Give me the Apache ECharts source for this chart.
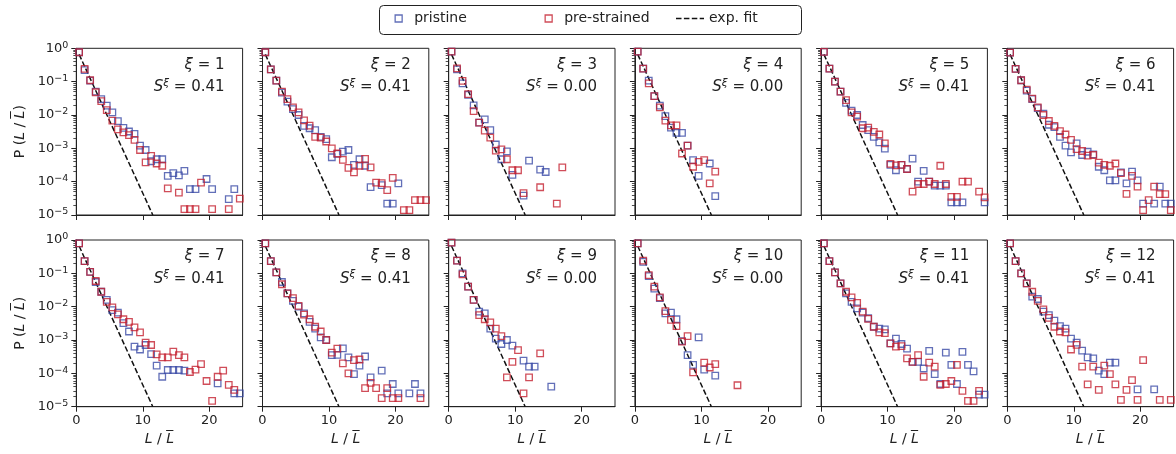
<!DOCTYPE html>
<html><head><meta charset="utf-8">
<script src="https://cdn.jsdelivr.net/npm/echarts@6/dist/echarts.min.js"></script>
<style>html,body{margin:0;padding:0;background:#fff}#c{width:1176px;height:454px}</style>
</head><body><div id="c"></div>
<script>
// bin centres of L / L-bar
const binX = [0.42, 1.25, 2.08, 2.92, 3.75, 4.58, 5.42, 6.25, 7.08, 7.92, 8.75, 9.58, 10.42, 11.25, 12.08, 12.92, 13.75, 14.58, 15.42, 16.25, 17.08, 17.92, 18.75, 19.58, 20.42, 21.25, 22.08, 22.92, 23.75, 24.58];

const xiValues = [1, 2, 3, 4, 5, 6, 7, 8, 9, 10, 11, 12];
const sValues = ['0.41', '0.41', '0.00', '0.00', '0.41', '0.41', '0.41', '0.41', '0.00', '0.00', '0.41', '0.41'];

const pristine1 = [0.76, 0.22, 0.107, 0.05, 0.03, 0.019, 0.012, 0.0065, 0.0041, 0.0032, 0.0027, 0.0012, 0.00089, 0.00041, 0.00047, 0.00047, 0.00015, 0.00018, 0.000155, 0.00021, 6e-5, 6e-5, null, 0.00012, 6e-5, null, null, 3e-5, 6e-5, null];
const strained1 = [0.76, 0.24, 0.11, 0.048, 0.026, 0.014, 0.0068, 0.0037, 0.003, 0.0025, 0.0018, 0.00089, 0.00038, 0.00059, 0.00035, 0.0003, 6.3e-5, null, 4.7e-5, 1.5e-5, 1.5e-5, 1.5e-5, 9.3e-5, null, 1.5e-5, null, null, 1.5e-5, null, 3.1e-5];
const pristine2 = [0.76, 0.234, 0.107, 0.047, 0.025, 0.015, 0.01, 0.0047, 0.004, 0.0035, 0.0022, 0.0019, 0.00054, 0.00068, 0.0008, 0.00089, 0.00032, 0.00047, 0.0003, 6.9e-5, null, 7.9e-5, 2.2e-5, 2.2e-5, 8.9e-5];
const strained2 = [0.76, 0.234, 0.107, 0.05, 0.03, 0.017, 0.012, 0.0069, 0.0048, 0.0022, 0.0021, 0.0016, 0.001, 0.0007, 0.00045, 0.00026, 0.00019, 0.0003, 0.00048, 0.00027, 9.3e-5, 9.1e-5, 5.6e-5, 0.00013, null, 1.4e-5, 1.4e-5, 2.8e-5, 2.8e-5, 2.8e-5];
const pristine3 = [0.79, 0.234, 0.089, 0.04, 0.0195, 0.0059, 0.0074, 0.0035, 0.0013, 0.00047, 0.00081, 0.00016, null, 3.8e-5, 0.00043, null, 0.00023, 0.000195];
const strained3 = [0.79, 0.25, 0.105, 0.042, 0.013, 0.0059, 0.0034, 0.0021, 0.00085, 0.00093, 0.00047, 0.00022, 0.00022, 4.5e-5, null, null, 6.8e-5, null, null, 2.2e-5, 0.00027];
const pristine4 = [0.79, 0.245, 0.107, 0.037, 0.019, 0.0093, 0.0042, 0.0029, 0.0029, 0.0012, 0.00044, 0.00015, null, 0.00035, 3.7e-5];
const strained4 = [0.79, 0.245, 0.089, 0.037, 0.017, 0.0068, 0.0049, 0.0049, 0.0007, 0.0012, 0.00028, 0.00039, 0.00044, 8.9e-5, 0.0002];
const pristine5 = [0.78, 0.245, 0.1, 0.05, 0.023, 0.0135, 0.01, 0.005, 0.0035, 0.0022, 0.0015, 0.00098, 0.00032, 0.00022, 0.00032, 0.00024, 0.00049, 0.0001, 0.00021, 0.0001, 7.6e-5, 7.6e-5, 7.6e-5, 2.4e-5, 2.4e-5, 2.4e-5, null, null, null, 2.4e-5];
const strained5 = [0.78, 0.245, 0.1, 0.05, 0.028, 0.012, 0.0089, 0.004, 0.0042, 0.0031, 0.0026, 0.0014, 0.00034, 0.00031, 0.00032, 0.00024, 5e-5, 8.5e-5, 8.5e-5, 0.0001, 8.5e-5, 0.0003, 8.5e-5, 3.5e-5, 3.5e-5, 0.0001, 0.0001, null, 5e-5, 3.4e-5];
const pristine6 = [0.74, 0.24, 0.11, 0.054, 0.03, 0.016, 0.011, 0.0051, 0.0043, 0.0022, 0.0012, 0.00076, 0.0014, 0.00063, 0.00079, 0.00066, 0.00028, 0.00022, 0.00011, 0.00011, 0.00019, 8.9e-5, 0.0002, 0.00011, 2.2e-5, null, 2.2e-5, 7.1e-5, 2.2e-5, 2.2e-5];
const strained6 = [0.74, 0.24, 0.11, 0.058, 0.031, 0.017, 0.01, 0.0066, 0.0047, 0.0033, 0.0026, 0.0018, 0.00095, 0.00083, 0.0006, 0.00063, 0.00037, 0.00032, 0.0003, 0.00035, 0.00018, 4.3e-5, 0.00015, 7.1e-5, 1.4e-5, 2.8e-5, 7.1e-5, 4.2e-5, 4.2e-5, 1.4e-5];
const pristine7 = [0.79, 0.234, 0.11, 0.055, 0.028, 0.016, 0.0079, 0.0066, 0.0032, 0.0018, 0.00063, 0.00052, 0.00071, 0.00038, 0.00017, 7.9e-5, 0.000126, 0.000126, 0.000126, 0.00012, null, null, null, null, null, 5e-5, null, null, 2.5e-5, 2.5e-5];
const strained7 = [0.79, 0.234, 0.11, 0.059, 0.028, 0.014, 0.0095, 0.0059, 0.0042, 0.0035, 0.0024, 0.0017, 0.00083, 0.00071, 0.00037, 0.0003, 0.0003, 0.00045, 0.00035, 0.0003, 0.00011, 0.00013, 0.00019, 5.9e-5, 1.5e-5, 7.9e-5, 0.00012, 4.5e-5, 3.2e-5];
const pristine8 = [0.79, 0.234, 0.107, 0.055, 0.025, 0.015, 0.01, 0.0063, 0.0035, 0.0022, 0.0012, 0.001, 0.00035, 0.00036, 0.00056, 0.0003, 9.5e-5, 0.00017, 0.00032, 7.6e-5, null, 0.00012, 2.5e-5, 4.8e-5, 2.5e-5, null, 2.5e-5, 4.8e-5, 2.5e-5];
const strained8 = [0.79, 0.234, 0.107, 0.047, 0.025, 0.018, 0.0105, 0.0058, 0.0042, 0.0025, 0.0018, 0.001, 0.00042, 0.00055, 0.0002, 0.0001, 0.00025, 0.00026, 3.6e-5, 5.2e-5, 3.6e-5, 1.8e-5, 3.6e-5, 1.8e-5, 1.8e-5, null, null, null, 1.8e-5];
const pristine9 = [0.83, 0.24, 0.1, 0.04, 0.016, 0.0071, 0.0063, 0.0022, 0.0011, 0.00076, 0.001, 0.00068, null, 0.00024, 0.00016, 0.00016, null, null, 4e-5];
const strained9 = [0.83, 0.24, 0.093, 0.04, 0.016, 0.0056, 0.0042, 0.0034, 0.0022, 0.0013, 7.6e-5, 0.00022, 0.0005, 2.5e-5, 7.6e-5, null, 0.0004];
const pristine10 = [0.79, 0.22, 0.083, 0.035, 0.018, 0.0063, 0.0066, 0.0042, 0.00093, 0.00035, 0.00018, 0.0012, 0.00013, null, 8.5e-5];
const strained10 = [0.79, 0.24, 0.089, 0.04, 0.019, 0.0074, 0.004, 0.0026, 0.00089, 0.0013, 0.000107, null, 0.00021, 0.00015, 0.00019, null, null, null, 4.4e-5];
const pristine11 = [0.79, 0.234, 0.107, 0.05, 0.025, 0.014, 0.0089, 0.0066, 0.0045, 0.0025, 0.0022, 0.0021, 0.00079, 0.0011, 0.00076, 0.00055, 0.00022, 0.00022, 0.00014, 0.00047, 9.5e-5, 4.8e-5, 0.00042, 0.00018, 4.8e-5, 0.00044, 0.00018, 0.000115, 2.3e-5, 2.3e-5];
const strained11 = [0.79, 0.234, 0.107, 0.05, 0.028, 0.019, 0.013, 0.0071, 0.0043, 0.0025, 0.0017, 0.0016, 0.00079, 0.00063, 0.00066, 0.00028, 0.00022, 0.00035, 7.9e-5, 0.00021, 0.00016, 4.5e-5, 4.8e-5, 5.9e-5, 0.00018, 3e-5, 1.5e-5, 1.5e-5, 3e-5];
const pristine12 = [0.79, 0.234, 0.1, 0.05, 0.02, 0.017, 0.0071, 0.0056, 0.0038, 0.0026, 0.0022, 0.0011, 0.00083, 0.00048, 0.0003, 0.00028, 0.00012, 9.5e-5, 0.00021, 0.00021, null, null, null, 3.3e-5, null, null, 3.3e-5];
const strained12 = [0.79, 0.234, 0.1, 0.05, 0.028, 0.015, 0.0083, 0.0046, 0.0025, 0.0018, 0.0017, 0.00052, 0.00072, 0.00016, 4.7e-5, 0.00016, 3.2e-5, 0.00017, 9.5e-5, 4.7e-5, 1.6e-5, 3.2e-5, 6.3e-5, 1.6e-5, 0.00025, null, null, 1.6e-5, null, 1.6e-5];

// exponential fit line (same in every panel): end points
const fitX = [0.42, 11.5];
const fitY = [0.66, 1.0e-5];

// axis ticks
const xTicks = [0, 10, 20];
const yMajorTicks = [1e-5, 1e-4, 1e-3, 1e-2, 1e-1, 1];
const yMinorTicks = [2e-5,3e-5,4e-5,5e-5,6e-5,7e-5,8e-5,9e-5, 2e-4,3e-4,4e-4,5e-4,6e-4,7e-4,8e-4,9e-4, 2e-3,3e-3,4e-3,5e-3,6e-3,7e-3,8e-3,9e-3, 2e-2,3e-2,4e-2,5e-2,6e-2,7e-2,8e-2,9e-2, 0.2,0.3,0.4,0.5,0.6,0.7,0.8,0.9];

const pristineAll = [pristine1, pristine2, pristine3, pristine4, pristine5, pristine6, pristine7, pristine8, pristine9, pristine10, pristine11, pristine12];
const strainedAll = [strained1, strained2, strained3, strained4, strained5, strained6, strained7, strained8, strained9, strained10, strained11, strained12];

const FONT = 'DejaVu Sans';
const TXT = '#222';
const BLUE = '#3b4ba6';
const RED = '#c4202f';
const LEFT0 = 76.3, COLSTEP = 186.2, W = 166.3, H = 166.7, TOPS = [48.3, 240];

function pairs(arr) {
  const out = [];
  arr.forEach((v, i) => { if (v !== null && v !== undefined) out.push([binX[i], v]); });
  return out;
}

const grids = [], xAxes = [], yAxes = [], series = [], graphics = [];
const axisNameRich = {
  n: { fontFamily: FONT, fontSize: 14, color: TXT },
  i: { fontFamily: FONT, fontSize: 14, color: TXT, fontStyle: 'italic' }
};

for (let k = 0; k < 12; k++) {
  const row = Math.floor(k / 6), col = k % 6;
  const left = LEFT0 + col * COLSTEP, top = TOPS[row];
  grids.push({ left, top, width: W, height: H, show: true, borderColor: TXT, borderWidth: 1,
    backgroundColor: 'transparent', containLabel: false, outerBoundsMode: 'none' });
  xAxes.push({
    gridIndex: k, type: 'value', min: 0, max: 25,
    axisLine: { show: true, onZero: false, lineStyle: { color: TXT, width: 1 } },
    axisTick: { show: true, length: 5, customValues: xTicks, lineStyle: { color: TXT, width: 1 } },
    axisLabel: { show: row === 1, customValues: xTicks, color: TXT, fontSize: 13, fontFamily: FONT, margin: 7 },
    splitLine: { show: false },
    name: row === 1 ? '{i|L}{n| / }{i|L\u0305}' : '',
    nameLocation: 'middle', nameGap: 26,
    nameTextStyle: { rich: axisNameRich }
  });
  yAxes.push({
    gridIndex: k, type: 'log', logBase: 10, min: 1e-5, max: 1, position: 'left',
    axisLine: { show: true, onZero: false, lineStyle: { color: TXT, width: 1 } },
    axisTick: { show: true, length: 5, customValues: yMajorTicks, lineStyle: { color: TXT, width: 1 } },
    axisLabel: {
      show: col === 0, customValues: yMajorTicks, margin: 8,
      formatter: function (v) {
        const e = Math.round(Math.log10(v));
        return '{b|10}{s|' + (e < 0 ? '\u2212' + (-e) : e) + '}';
      },
      rich: {
        b: { fontFamily: FONT, fontSize: 13, lineHeight: 16, color: TXT },
        s: { fontFamily: FONT, fontSize: 9.5, lineHeight: 9, color: TXT, verticalAlign: 'top' }
      }
    },
    splitLine: { show: false },
    name: col === 0 ? '{n|P (}{i|L}{n| / }{i|L\u0305}{n|)}' : '',
    nameLocation: 'middle', nameGap: 49, nameRotate: 90,
    nameTextStyle: { rich: axisNameRich }
  });
  yAxes.push({
    gridIndex: k, type: 'log', logBase: 10, min: 1e-5, max: 1, position: 'left', offset: 0,
    axisLine: { show: false },
    axisTick: { show: true, length: 3, customValues: yMinorTicks, lineStyle: { color: TXT, width: 0.8 } },
    axisLabel: { show: false },
    splitLine: { show: false }
  });
  series.push({
    name: 'exp. fit', type: 'line', xAxisIndex: k, yAxisIndex: 2 * k,
    data: fitX.map((x, i) => [x, fitY[i]]), symbol: 'none', clip: true, z: 1,
    lineStyle: { color: '#111', width: 1.5, type: [5.5, 2.4] }, itemStyle: { color: '#111' }
  });
  series.push({
    name: 'pristine', type: 'scatter', xAxisIndex: k, yAxisIndex: 2 * k,
    data: pairs(pristineAll[k]), symbol: 'rect', symbolSize: 6.5, z: 2,
    itemStyle: { color: 'rgba(0,0,0,0)', borderColor: BLUE, borderWidth: 1.3 }
  });
  series.push({
    name: 'pre-strained', type: 'scatter', xAxisIndex: k, yAxisIndex: 2 * k,
    data: pairs(strainedAll[k]), symbol: 'rect', symbolSize: 6.5, z: 3,
    itemStyle: { color: 'rgba(0,0,0,0)', borderColor: RED, borderWidth: 1.3 }
  });
  const rx = left + W - 18;
  graphics.push({
    type: 'text', x: rx, y: top + 16.5, z: 10,
    style: {
      text: '{i|\u03BE}{n| = ' + xiValues[k] + '}', align: 'right', verticalAlign: 'middle',
      rich: {
        i: { fontFamily: FONT, fontSize: 15, fontStyle: 'italic', fill: TXT, lineHeight: 20 },
        n: { fontFamily: FONT, fontSize: 15, fill: TXT, lineHeight: 20 }
      }
    }
  });
  graphics.push({
    type: 'text', x: rx, y: top + 39, z: 10,
    style: {
      text: '{i|S}{s|\u03BE}{n| = ' + sValues[k] + '}', align: 'right', verticalAlign: 'middle',
      rich: {
        i: { fontFamily: FONT, fontSize: 15, fontStyle: 'italic', fill: TXT, lineHeight: 20 },
        s: { fontFamily: FONT, fontSize: 10.5, fontStyle: 'italic', fill: TXT, lineHeight: 10, verticalAlign: 'top' },
        n: { fontFamily: FONT, fontSize: 15, fill: TXT, lineHeight: 20 }
      }
    }
  });
}

// legend frame
graphics.push({
  type: 'rect', z: 0, silent: true,
  shape: { x: 379.5, y: 5.5, width: 422, height: 29, r: 4 },
  style: { fill: '#fff', stroke: TXT, lineWidth: 1 }
});

const SQUARE_ICON = 'path://M0,0H10V10H0Z';
const DASH_ICON = 'path://M0,0h5.5v1.5h-5.5zM7.9,0h5.5v1.5h-5.5zM15.8,0h5.5v1.5h-5.5zM23.7,0h4.3v1.5h-4.3z';
const legendText = { fontFamily: FONT, fontSize: 14, color: TXT, lineHeight: 17 };
function legendFor(name, left, icon, w, itemStyle, pad) {
  return {
    left: left, top: 11.5, padding: 0, itemWidth: w, itemHeight: 7, z: 5,
    data: [{ name: name, icon: icon, itemStyle: itemStyle }],
    formatter: '{t|{name}}',
    textStyle: { fontFamily: FONT, fontSize: 14, color: TXT,
      rich: { t: Object.assign({ padding: [0, 0, 0, pad] }, legendText) } }
  };
}

const chart = echarts.init(document.getElementById('c'), null, { renderer: 'canvas' });
chart.setOption({
  animation: false,
  backgroundColor: '#fff',
  legend: [
    legendFor('pristine', 394.5, SQUARE_ICON, 7, { color: 'rgba(0,0,0,0)', borderColor: BLUE, borderWidth: 1.3 }, 7),
    legendFor('pre-strained', 544.5, SQUARE_ICON, 7, { color: 'rgba(0,0,0,0)', borderColor: RED, borderWidth: 1.3 }, 7),
    legendFor('exp. fit', 676, DASH_ICON, 28, { color: '#111', borderWidth: 0 }, 0)
  ],
  grid: grids, xAxis: xAxes, yAxis: yAxes, series: series, graphic: graphics
});
</script></body></html>
